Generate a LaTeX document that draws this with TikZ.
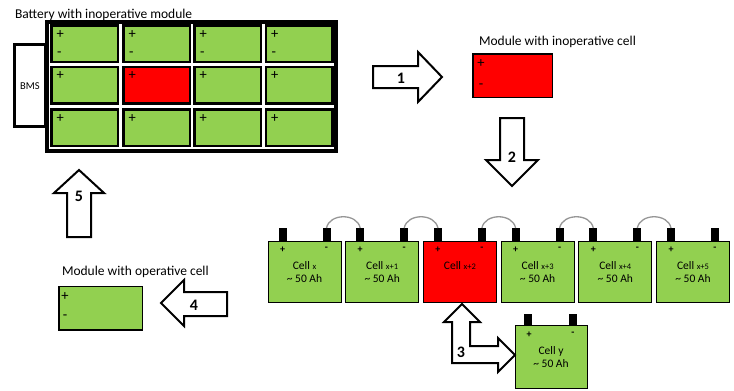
\documentclass[tikz,border=0pt]{standalone}
\usepackage{fontspec}
\setmainfont{Carlito}
\usetikzlibrary{calc}
\definecolor{cgreen}{HTML}{92D050}
\definecolor{cred}{HTML}{FF0000}
\definecolor{wiregray}{RGB}{150,150,150}
\begin{document}
\begin{tikzpicture}[x=1bp,y=-1bp,
  every node/.style={inner sep=0pt,outer sep=0pt},
  bcell/.style={draw=black,line width=2.5bp,fill=cgreen,minimum width=66.5bp,minimum height=36.5bp},
  frame/.style={draw=black,line width=4bp,fill=white},
  bmsbox/.style={draw=black,line width=3bp,fill=white},
  module/.style={draw=black,line width=1.5bp,minimum width=79.5bp,minimum height=43.5bp},
  rcell/.style={draw=black,line width=1bp,fill=cgreen,minimum width=73bp,minimum height=61bp},
  term/.style={fill=black,minimum width=8bp,minimum height=13bp},
  wire/.style={draw=wiregray,line width=1.3bp},
  blockarrow/.style={draw=black,line width=2bp,fill=white,line join=miter},
  pm/.style={font=\fontsize{14.5bp}{14.5bp}\selectfont},
  spm/.style={font=\bfseries\fontsize{10bp}{10bp}\selectfont},
  title/.style={font=\fontsize{13.5bp}{13.5bp}\selectfont,anchor=base west},
  num/.style={font=\bfseries\fontsize{16bp}{16bp}\selectfont},
  celltxt/.style={font=\fontsize{11.5bp}{11.5bp}\selectfont},
]
\useasboundingbox (0,0) rectangle (734,390);

% ---- Battery ----
\node[title] (battitle) at (15,18) {Battery with inoperative module};
\node[bmsbox,minimum width=31bp,minimum height=82bp] (bms) at (30,85.5) {};
\node[font=\fontsize{10.5bp}{10.5bp}\selectfont] (bmstxt) at (30,86) {BMS};
\node[frame,minimum width=289bp,minimum height=129bp] (frame) at (191.5,86.5) {};
\foreach \cx [count=\c] in {84.5,156.5,227.5,299}{
  \foreach \cy [count=\r] in {43.5,85,127.5}{
    \node[bcell] (b\r\c) at (\cx,\cy) {};
    \node[pm] (bp\r\c) at ($(b\r\c.north west)+(9,9)$) {+};
  }
  \node[pm] (bm1\c) at ($(b1\c.north west)+(8,28.5)$) {-};
}
\node[bcell,fill=cred] (b22r) at (156.5,85) {};
\node[pm] (bp22r) at ($(b22r.north west)+(9,9)$) {+};

% ---- Arrow 1 ----
\draw[blockarrow] (373,66) -- (418,66) -- (418,52) -- (442,77) -- (418,102) -- (418,88) -- (373,88) -- cycle;
\node[num] (n1) at (401,78) {1};

% ---- Inoperative module ----
\node[title] (modtitle1) at (479,45) {Module with inoperative cell};
\node[module,fill=cred] (modred) at (512.5,75.5) {};
\node[pm] (modredp) at (481,64) {+};
\node[pm] (modredm) at (481,86.5) {-};

% ---- Arrow 2 ----
\draw[blockarrow] (500,118) -- (524,118) -- (524,160) -- (538,160) -- (512,186) -- (486,160) -- (500,160) -- cycle;
\node[num] (n2) at (512,157) {2};

% ---- Row of cells ----
\foreach \i/\fc/\sub/\ah in {0/cgreen/x/1,1/cgreen/x+1/1,2/cred/x+2/0,3/cgreen/x+3/1,4/cgreen/x+4/1,5/cgreen/x+5/1}{
  \pgfmathsetmacro{\xo}{267.5+77.7*\i}
  \node[rcell,fill=\fc] (c\i) at (\xo+37,272) {};
  \node[term] (tp\i) at (\xo+15,234.5) {};
  \node[term] (tm\i) at (\xo+59,234.5) {};
  \node[spm] (cp\i) at (\xo+15,250) {+};
  \node[spm] (cm\i) at (\xo+59,249) {-};
  \node[celltxt] (cl\i) at (\xo+37,266) {Cell {\fontsize{8.5bp}{8.5bp}\selectfont\sub}};
  \ifnum\ah=1
    \node[celltxt] (ca\i) at (\xo+37,279) {\textasciitilde{} 50 Ah};
  \fi
}
\foreach \i in {0,...,4}{
  \pgfmathtruncatemacro{\j}{\i+1}
  \draw[wire] (tm\i.north) .. controls +(3,-15) and +(-3,-15) .. (tp\j.north);
}

% ---- Cell y ----
\node[rcell,minimum width=72bp,minimum height=63bp] (cy) at (551.5,357) {};
\node[term,minimum height=11bp] (typ) at (528,319.5) {};
\node[term,minimum height=11bp] (tym) at (572.5,319.5) {};
\node[spm] (cyp) at (529,335) {+};
\node[spm] (cym) at (573,334) {-};
\node[celltxt] (cyl) at (551,351) {Cell y};
\node[celltxt] (cya) at (551,364) {\textasciitilde{} 50 Ah};

% ---- Arrow 3 ----
\draw[blockarrow] (462,304) -- (480,322) -- (470,322) -- (470,346) -- (498,346) -- (498,338) -- (515,355) -- (498,372) -- (498,363) -- (452,363) -- (452,322) -- (444,322) -- cycle;
\node[num] (n3) at (461,352) {3};

% ---- Arrow 4 ----
\draw[blockarrow] (161,303) -- (184,280) -- (184,292) -- (227,292) -- (227,316) -- (184,316) -- (184,326) -- cycle;
\node[num] (n4) at (194,305) {4};

% ---- Operative module ----
\node[title] (modtitle2) at (62,275) {Module with operative cell};
\node[module,fill=cgreen,minimum width=83.5bp] (modgreen) at (100.5,308) {};
\node[pm] (modgreenp) at (65,297) {+};
\node[pm] (modgreenm) at (65,317.5) {-};

% ---- Arrow 5 ----
\draw[blockarrow] (79,170) -- (104,193) -- (91,193) -- (91,237) -- (67,237) -- (67,193) -- (54,193) -- cycle;
\node[num] (n5) at (79,196) {5};
\end{tikzpicture}
\end{document}
